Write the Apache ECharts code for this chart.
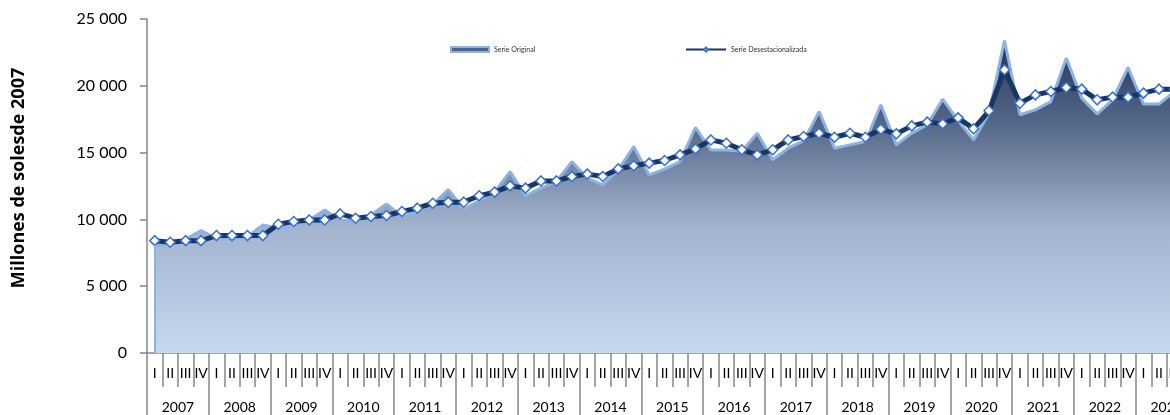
<!DOCTYPE html>
<html>
<head>
<meta charset="utf-8">
<script src="https://cdn.jsdelivr.net/npm/echarts@6/dist/echarts.min.js"></script>
<style>
  html, body { margin: 0; padding: 0; background: #ffffff; }
  #chart { width: 1170px; height: 415px; }
</style>
</head>
<body>
<div id="chart"></div>
<script>
// Years (2007 - 2023) and quarter labels
const years = ['2007','2008','2009','2010','2011','2012','2013','2014','2015','2016','2017','2018','2019','2020','2021','2022','2023'];
const quarterNames = ['I','II','III','IV'];
// Quarterly categories 2007-I .. 2023-III
const quarters = [];
for (const y of years) for (const q of quarterNames) { if (quarters.length < 67) quarters.push(q); }

// Serie Original (millones de soles de 2007)
const serieOriginal = [
  8090, 8100, 8510, 9160,
  8590, 8510, 8710, 9590,
  9340, 9510, 9960, 10710,
  9950, 9900, 10340, 11160,
  10200, 10590, 11090, 12240,
  10760, 11420, 12060, 13580,
  11760, 12340, 12830, 14330,
  13090, 12580, 13710, 15450,
  13330, 13760, 14330, 16880,
  15200, 15200, 15100, 16450,
  14460, 15330, 15880, 18070,
  15330, 15580, 15830, 18580,
  15580, 16460, 17080, 19000,
  17400, 15950, 17950, 23390,
  17830, 18200, 18820, 22070,
  19080, 17900, 18950, 21370,
  18630, 18630, 19570
];
// Serie Desestacionalizada
const serieDesest = [
  8410, 8290, 8410, 8410,
  8790, 8790, 8790, 8790,
  9640, 9840, 9960, 9960,
  10410, 10090, 10210, 10290,
  10590, 10840, 11210, 11290,
  11290, 11770, 12040, 12510,
  12340, 12880, 12880, 13210,
  13390, 13210, 13780, 14020,
  14210, 14410, 14830, 15280,
  15950, 15700, 15210, 14830,
  15210, 15950, 16200, 16450,
  16150, 16450, 16150, 16750,
  16400, 17000, 17280, 17150,
  17600, 16780, 18130, 21200,
  18700, 19320, 19570, 19870,
  19750, 18950, 19150, 19150,
  19450, 19750, 19750
];
const yTicks = [0, 5000, 10000, 15000, 20000, 25000];

const band = 15.45;
const FONT = 'Lato';

const chart = echarts.init(document.getElementById('chart'), null, { renderer: 'canvas' });
chart.setOption({
  animation: false,
  backgroundColor: '#ffffff',
  textStyle: { fontFamily: FONT },
  legend: [
    {
      data: [{ name: 'Serie Original', icon: 'rect', itemStyle: { color: '#4d6288', borderColor: '#8db3e2', borderWidth: 2 } }],
      left: 445, top: 41, itemWidth: 38, itemHeight: 5, itemGap: 6,
      textStyle: { fontSize: 7, color: '#303030', fontFamily: FONT }
    },
    {
      data: ['Serie Desestacionalizada'],
      left: 680, top: 41, itemWidth: 40, itemHeight: 5, itemGap: 6,
      textStyle: { fontSize: 7, color: '#303030', fontFamily: FONT }
    }
  ],
  grid: [
    { left: 147, top: 19, height: 334, width: band * 67, outerBoundsMode: 'none', containLabel: false },
    { left: 147, top: 19, height: 334, width: band * 68, outerBoundsMode: 'none', containLabel: false }
  ],
  xAxis: [
    {
      type: 'category', gridIndex: 0, data: quarters, boundaryGap: true,
      axisLine: { show: true, lineStyle: { color: '#878787', width: 1.5 } },
      axisTick: { show: true, interval: 0, length: 34, lineStyle: { color: '#878787', width: 1.5 } },
      axisLabel: { interval: 0, margin: 13, fontSize: 14, color: '#000000', fontFamily: FONT }
    },
    {
      type: 'category', gridIndex: 1, data: years, boundaryGap: true,
      axisLine: { show: false },
      axisTick: { show: true, interval: 0, length: 62, lineStyle: { color: '#878787', width: 1.5 } },
      axisLabel: { interval: 0, margin: 47, fontSize: 14, color: '#000000', fontFamily: FONT }
    }
  ],
  yAxis: [
    {
      type: 'value', gridIndex: 0, min: 0, max: 25000, interval: 5000,
      name: 'Millones de solesde 2007', nameLocation: 'middle', nameGap: 119,
      nameTextStyle: { fontSize: 18, fontWeight: 'bold', color: '#000000', fontFamily: 'Open Sans', padding: [0, 0, 0, 16] },
      axisLine: { show: true, lineStyle: { color: '#878787', width: 1.5 } },
      axisTick: { show: true, length: 7, lineStyle: { color: '#878787', width: 1.5 } },
      splitLine: { show: false },
      axisLabel: {
        margin: 20, fontSize: 16, color: '#000000', fontFamily: FONT,
        formatter: v => String(v).replace(/\B(?=(\d{3})+(?!\d))/g, ' ')
      }
    },
    { type: 'value', gridIndex: 1, min: 0, max: 25000, show: false }
  ],
  series: [
    {
      name: 'Serie Original', type: 'line', xAxisIndex: 0, yAxisIndex: 0,
      data: serieOriginal, showSymbol: false, symbol: 'none', z: 1,
      lineStyle: { color: '#8db3e2', width: 3 },
      itemStyle: { color: '#4d6288' },
      areaStyle: {
        opacity: 1,
        color: new echarts.graphic.LinearGradient(0, 0, 0, 1, [
          { offset: 0, color: '#22345a' },
          { offset: 0.3, color: '#5d6f8f' },
          { offset: 0.6, color: '#a3b5ce' },
          { offset: 1, color: '#c6d9f1' }
        ])
      },
      markLine: {
        silent: true, symbol: 'none', animation: false,
        label: { show: false },
        lineStyle: { color: '#8db3e2', width: 2, type: 'solid' },
        data: [[{ coord: [0, 0] }, { coord: [0, serieOriginal[0]] }]]
      }
    },
    {
      name: 'Serie Desestacionalizada', type: 'line', xAxisIndex: 0, yAxisIndex: 0,
      data: serieDesest, z: 3,
      lineStyle: { color: '#17375e', width: 5 },
      symbol: 'diamond', symbolSize: 10, showSymbol: true,
      itemStyle: { color: '#ffffff', borderColor: '#3a6fd8', borderWidth: 1.5 }
    }
  ]
});
</script>
</body>
</html>
